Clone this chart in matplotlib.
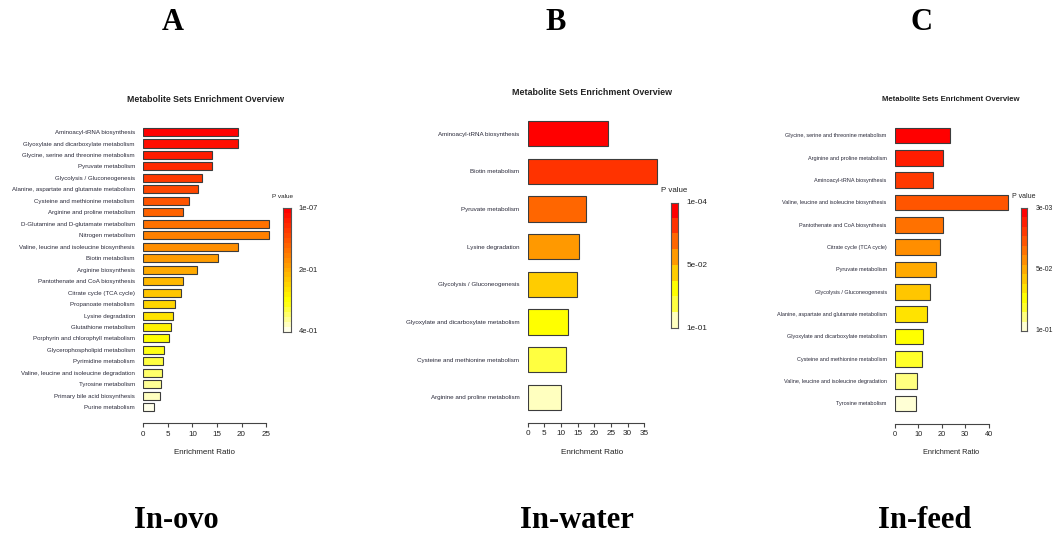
import colorsys
import numpy as np
import matplotlib
matplotlib.use("Agg")
import matplotlib.pyplot as plt

plt.rcParams['font.family'] = ['Liberation Sans', 'DejaVu Sans']

# In-ovo
ovo_sets = ["Aminoacyl-tRNA biosynthesis", "Glyoxylate and dicarboxylate metabolism",
            "Glycine, serine and threonine metabolism", "Pyruvate metabolism",
            "Glycolysis / Gluconeogenesis", "Alanine, aspartate and glutamate metabolism",
            "Cysteine and methionine metabolism", "Arginine and proline metabolism",
            "D-Glutamine and D-glutamate metabolism", "Nitrogen metabolism",
            "Valine, leucine and isoleucine biosynthesis", "Biotin metabolism",
            "Arginine biosynthesis", "Pantothenate and CoA biosynthesis",
            "Citrate cycle (TCA cycle)", "Propanoate metabolism", "Lysine degradation",
            "Glutathione metabolism", "Porphyrin and chlorophyll metabolism",
            "Glycerophospholipid metabolism", "Pyrimidine metabolism",
            "Valine, leucine and isoleucine degradation", "Tyrosine metabolism",
            "Primary bile acid biosynthesis", "Purine metabolism"]
ovo_ratio = [19.2, 19.2, 13.9, 13.9, 11.9, 11.1, 9.3, 8.1, 25.7, 25.7, 19.2, 15.3,
             10.9, 8.0, 7.7, 6.5, 6.1, 5.6, 5.2, 4.2, 4.0, 3.8, 3.7, 3.4, 2.2]
ovo_pticks = ["1e-07", "2e-01", "4e-01"]

# In-water
water_sets = ["Aminoacyl-tRNA biosynthesis", "Biotin metabolism", "Pyruvate metabolism",
              "Lysine degradation", "Glycolysis / Gluconeogenesis",
              "Glyoxylate and dicarboxylate metabolism",
              "Cysteine and methionine metabolism", "Arginine and proline metabolism"]
water_ratio = [24.0, 38.7, 17.6, 15.4, 14.8, 12.0, 11.6, 10.1]
water_pticks = ["1e-04", "5e-02", "1e-01"]

# In-feed
feed_sets = ["Glycine, serine and threonine metabolism", "Arginine and proline metabolism",
             "Aminoacyl-tRNA biosynthesis", "Valine, leucine and isoleucine biosynthesis",
             "Pantothenate and CoA biosynthesis", "Citrate cycle (TCA cycle)",
             "Pyruvate metabolism", "Glycolysis / Gluconeogenesis",
             "Alanine, aspartate and glutamate metabolism",
             "Glyoxylate and dicarboxylate metabolism",
             "Cysteine and methionine metabolism",
             "Valine, leucine and isoleucine degradation", "Tyrosine metabolism"]
feed_ratio = [23.5, 20.4, 16.1, 48.5, 20.4, 19.4, 17.4, 14.8, 13.8, 12.1, 11.7, 9.5, 9.1]
feed_pticks = ["3e-03", "5e-02", "1e-01"]

W, H = 1055, 540
TXT = '#222222'


def heat_colors(n):
    # same ramp as R's heat.colors(): red -> yellow, then yellow fading to white
    j = n // 4
    i = n - j
    cols = []
    for h in np.linspace(0, 1 / 6, i):
        cols.append(colorsys.hsv_to_rgb(h, 1, 1))
    if j > 0:
        for s in np.linspace(1 - 1 / (2 * j), 1 / (2 * j), j):
            cols.append(colorsys.hsv_to_rgb(1 / 6, s, 1))
    return cols


def px(left, top, width, height):
    return [left / W, 1 - (top + height) / H, width / W, height / H]


def panel(fig, sets, ratio, pticks, x0, ppu, xmax, xticks, top, bottom, axis_y,
          bar_h, sz, cbar, title_xy, xlab_xy, pval_xy):
    n = len(sets)
    cols = heat_colors(n)
    ax = fig.add_axes(px(x0, top, xmax * ppu, bottom - top))
    ax.barh(np.arange(n), ratio, height=bar_h, color=cols, edgecolor='#3c3c3c',
            linewidth=0.8)
    ax.set_xlim(0, xmax)
    ax.set_ylim(n - 0.5, -0.5)
    for s in ['top', 'right', 'left']:
        ax.spines[s].set_visible(False)
    ax.spines['bottom'].set_position(('outward', (axis_y - bottom) * 0.72))
    ax.spines['bottom'].set_bounds(xticks[0], xticks[-1])
    ax.spines['bottom'].set_color('#444444')
    ax.spines['bottom'].set_linewidth(0.8)
    ax.set_xticks(xticks)
    ax.tick_params(axis='x', length=3, width=0.8, color='#444444', pad=2.5,
                   labelsize=sz['tick'], labelcolor=TXT)
    ax.set_yticks(np.arange(n))
    ax.set_yticklabels(sets, fontsize=sz['ylab'], color='#2a2a3a')
    ax.tick_params(axis='y', length=0, pad=6)

    fig.text(title_xy[0] / W, 1 - title_xy[1] / H, "Metabolite Sets Enrichment Overview",
             ha='center', va='center', fontsize=sz['title'], fontweight='bold', color=TXT)
    fig.text(xlab_xy[0] / W, 1 - xlab_xy[1] / H, "Enrichment Ratio", ha='center',
             va='center', fontsize=sz['tick'], color=TXT)

    # P value legend
    cax = fig.add_axes(px(*cbar))
    cax.imshow(np.array(cols)[:, None, :], aspect='auto', interpolation='nearest')
    cax.set_xticks([])
    cax.set_yticks([])
    for s in cax.spines.values():
        s.set_color('#555555')
        s.set_linewidth(0.8)
    for yy, lab in zip([1, 0.5, 0], pticks):
        cax.text(1 + 8 / cbar[2], yy, lab, transform=cax.transAxes, ha='left',
                 va='center', fontsize=sz['cbar'], color=TXT)
    fig.text(pval_xy[0] / W, 1 - pval_xy[1] / H, "P value", ha='center', va='center',
             fontsize=sz['pval'], color=TXT)


fig = plt.figure(figsize=(10.55, 5.4), dpi=100)

panel(fig, ovo_sets, ovo_ratio, ovo_pticks, x0=143.3, ppu=4.91, xmax=27,
      xticks=[0, 5, 10, 15, 20, 25], top=126.3, bottom=413.0, axis_y=423,
      bar_h=0.70, sz=dict(title=6.3, ylab=4.45, tick=5.8, cbar=5.4, pval=4.6),
      cbar=(283.3, 208.3, 7.4, 123.4), title_xy=(205.5, 100), xlab_xy=(205, 453),
      pval_xy=(282, 196))

panel(fig, water_sets, water_ratio, water_pticks, x0=527.7, ppu=3.333, xmax=40,
      xticks=[0, 5, 10, 15, 20, 25, 30, 35], top=114.7, bottom=416.1, axis_y=422.7,
      bar_h=0.67, sz=dict(title=6.4, ylab=4.5, tick=5.9, cbar=5.9, pval=5.7),
      cbar=(671, 202.7, 7.3, 125.6), title_xy=(591.7, 92.3), xlab_xy=(591.7, 452.7),
      pval_xy=(674, 190.7))

panel(fig, feed_sets, feed_ratio, feed_pticks, x0=895, ppu=2.34, xmax=50,
      xticks=[0, 10, 20, 30, 40], top=124.3, bottom=414.5, axis_y=423.7,
      bar_h=0.70, sz=dict(title=5.55, ylab=3.97, tick=5.3, cbar=4.9, pval=5.0),
      cbar=(1020.7, 208.3, 6.6, 122.4), title_xy=(951, 100), xlab_xy=(951, 453),
      pval_xy=(1023.5, 196.7))

serif = ['Liberation Serif', 'DejaVu Serif']
for x, letter in [(173, "A"), (556, "B"), (922, "C")]:
    fig.text(x / W, 1 - 22 / H, letter, ha='center', va='center', fontsize=22,
             fontweight='bold', family=serif)
for x, name in [(176, "In-ovo"), (577, "In-water"), (925, "In-feed")]:
    fig.text(x / W, 1 - 521 / H, name, ha='center', va='center', fontsize=22,
             fontweight='bold', family=serif)

fig.savefig("out.png", dpi=100)
